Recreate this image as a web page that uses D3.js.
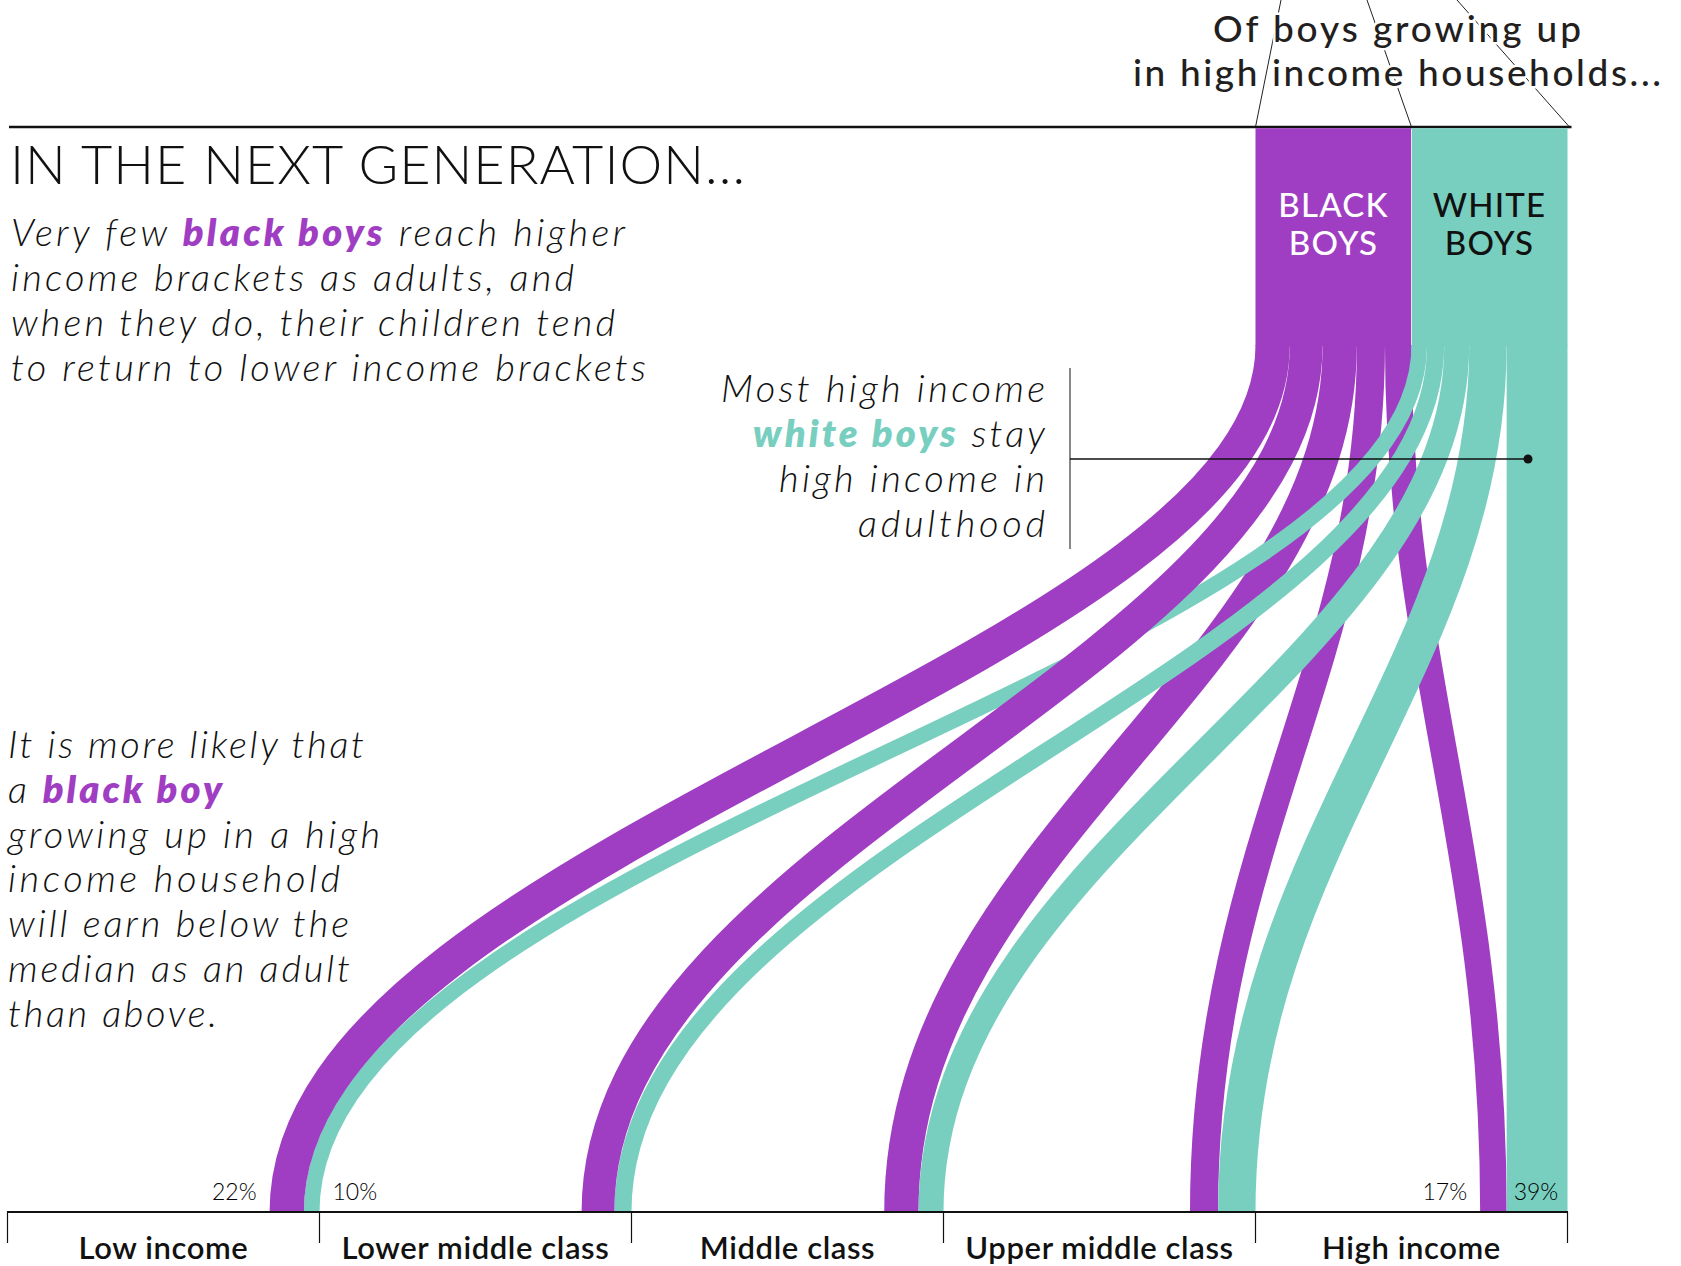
<!DOCTYPE html>
<html>
<head>
<meta charset="utf-8">
<script src="https://cdn.jsdelivr.net/npm/d3@7"></script>
<style>
  html, body { margin: 0; padding: 0; background: #fff; }
  svg { display: block; }
  text { font-family: Lato, "Open Sans", sans-serif; }
</style>
</head>
<body>
<svg id="chart" width="1681" height="1266"></svg>
<script>
// ---------------- DATA ----------------
const categories = ["Low income", "Lower middle class", "Middle class", "Upper middle class", "High income"];
const groups = ["BLACK BOYS", "WHITE BOYS"];
const blackShares = [22, 21, 22, 18, 17];   // % of black boys from high income households, by adult income bracket
const whiteShares = [10, 11, 16, 24, 39];   // % of white boys from high income households, by adult income bracket
const labelledCategories = ["Low income", "High income"]; // categories showing % labels

const headerLines = ["Of boys growing up", "in high income households..."];
const title = "IN THE NEXT GENERATION...";

// ---------------- SETUP ----------------
const svg = d3.select("#chart");
const purple = "#9f3ec2";
const teal = "#79cfbf";

const yTop = 127, yBarEnd = 345, yAxis = 1212;

const x = d3.scaleBand().domain(categories).range([7.5, 1567.5]).paddingInner(0).paddingOuter(0);
const w = d3.scaleLinear().domain([0, 100]).range([0, x.bandwidth() / 2]);
const yFlow = d3.scaleLinear().domain([0, 1]).range([yBarEnd, yAxis]);

const series = [
  { name: groups[0], values: blackShares, color: purple },
  { name: groups[1], values: whiteShares, color: teal }
];

const origin = x(categories[categories.length - 1]);
series.forEach((s, si) => { s.x0 = origin + w(100) * si; });

// ---------------- CONNECTOR LINES (top) ----------------
const gTop = svg.append("g");
const barL = series[0].x0, barM = series[1].x0, barR = series[1].x0 + w(100);
[[barL, 1281], [barM, 1367], [barR + 2, 1457]].forEach(([bx, tx]) => {
  gTop.append("line").attr("x1", bx).attr("y1", yTop).attr("x2", tx).attr("y2", 0)
    .attr("stroke", "#222").attr("stroke-width", 1);
});

const headerWidths = [368, 528];
headerLines.forEach((line, i) => {
  gTop.append("text").attr("text-anchor", "middle")
    .attr("x", 1397).attr("y", 42 + i * 44)
    .attr("font-size", 37).attr("font-weight", 500).attr("fill", "#231f20")
    .attr("stroke", "#fff").attr("stroke-width", 5).attr("paint-order", "stroke")
    .attr("textLength", headerWidths[i]).attr("lengthAdjust", "spacing")
    .text(line);
});

svg.append("line").attr("x1", 9).attr("x2", barR + 4).attr("y1", yTop).attr("y2", yTop)
  .attr("stroke", "#111").attr("stroke-width", 2.5);

// ---------------- SOURCE BARS ----------------
svg.selectAll("rect.src").data(series).join("rect")
  .attr("class", "src")
  .attr("x", d => d.x0).attr("y", yTop + 1.2)
  .attr("width", w(100)).attr("height", yBarEnd - yTop)
  .attr("fill", d => d.color);

// ---------------- LINKS ----------------
const links = [];
series.forEach((s, si) => {
  categories.forEach((c, ci) => {
    const right = x(c) + x.bandwidth();
    const tw = w(series[1].values[ci]);
    const bw = w(series[0].values[ci]);
    const targetStart = [right - tw - bw, right - tw];
    const before = d3.sum(s.values.slice(0, ci));
    const width = w(s.values[ci]);
    const sx = s.x0 + w(before) + width / 2;
    const tx = targetStart[si] + width / 2;
    // stacking layer: upper purple flows beneath, teal flows, then the two lowest purple flows on top
    const layer = si === 1 ? 1 : (ci >= 2 ? 0 : 2);
    links.push({ sx, tx, width, color: s.color, layer, ci });
  });
});
links.sort((a, b) => a.layer - b.layer || (a.layer === 0 ? b.ci - a.ci : a.ci - b.ci));

function flowPath(d) {
  const p = d3.path();
  p.moveTo(d.sx, yFlow(0));
  p.bezierCurveTo(d.sx, yFlow(0.37), d.tx, yFlow(0.58), d.tx, yFlow(1));
  return p.toString();
}

svg.append("g").selectAll("path").data(links).join("path")
  .attr("d", flowPath)
  .attr("fill", "none")
  .attr("stroke", d => d.color)
  .attr("stroke-width", d => d.width);

svg.append("line").attr("x1", barM).attr("x2", barM).attr("y1", yTop + 2).attr("y2", yBarEnd)
  .attr("stroke", "#fff").attr("stroke-width", 1).attr("opacity", 0.7);

// bar labels
series.forEach((s, si) => {
  const t = svg.append("text").attr("text-anchor", "middle")
    .attr("font-size", 33).attr("font-weight", 500)
    .attr("letter-spacing", 1.2)
    .attr("fill", si === 0 ? "#fff" : "#111");
  s.name.split(" ").forEach((word, i) => {
    t.append("tspan").attr("x", s.x0 + w(50)).attr("y", 217 + i * 38).text(word);
  });
});

// ---------------- AXIS ----------------
const gAxis = svg.append("g");
gAxis.append("line").attr("x1", 7).attr("x2", 1568).attr("y1", yAxis).attr("y2", yAxis)
  .attr("stroke", "#111").attr("stroke-width", 2.2);
const edges = categories.map(c => x(c)).concat([x(categories[categories.length - 1]) + x.bandwidth()]);
gAxis.selectAll("line.tick").data(edges).join("line").attr("class", "tick")
  .attr("x1", d => d).attr("x2", d => d).attr("y1", yAxis).attr("y2", 1243)
  .attr("stroke", "#111").attr("stroke-width", 1.2);
gAxis.selectAll("text.cat").data(categories).join("text").attr("class", "cat")
  .attr("x", d => x(d) + x.bandwidth() / 2).attr("y", 1259)
  .attr("text-anchor", "middle").attr("font-size", 31).attr("font-weight", 600)
  .attr("letter-spacing", 0.6)
  .attr("fill", "#111")
  .text(d => d);

// % labels
labelledCategories.forEach(c => {
  const ci = categories.indexOf(c);
  const right = x(c) + x.bandwidth();
  const tw = w(whiteShares[ci]);
  const bw = w(blackShares[ci]);
  svg.append("text").attr("x", right - tw - bw - 13).attr("y", 1200)
    .attr("text-anchor", "end").attr("font-size", 23).attr("font-weight", 300).attr("fill", "#000")
    .text(blackShares[ci] + "%");
  const inside = tw > 40;
  svg.append("text").attr("x", inside ? right - tw + 7 : right + 13).attr("y", 1200)
    .attr("text-anchor", "start").attr("font-size", 23).attr("font-weight", 300).attr("fill", "#000")
    .text(whiteShares[ci] + "%");
});

// ---------------- TITLE & ANNOTATIONS ----------------
svg.append("text").attr("x", 10).attr("y", 184)
  .attr("font-size", 54).attr("font-weight", 300).attr("fill", "#111")
  .attr("textLength", 735).attr("lengthAdjust", "spacing")
  .text(title);

function para(lines, opts) {
  const g = svg.append("g");
  lines.forEach((segs, i) => {
    const t = g.append("text")
      .attr("x", opts.x).attr("y", opts.y0 + i * opts.dy)
      .attr("text-anchor", opts.anchor || "start")
      .attr("font-size", opts.size).attr("font-style", "italic").attr("font-weight", 300)
      .attr("fill", "#111");
    if (opts.widths && opts.widths[i]) t.attr("textLength", opts.widths[i]).attr("lengthAdjust", "spacing");
    segs.forEach(s => {
      const ts = t.append("tspan").text(s.t);
      if (s.c) ts.attr("fill", s.c).attr("font-weight", 800);
    });
  });
}

para([
  [{ t: "Very few " }, { t: "black boys", c: purple }, { t: " reach higher" }],
  [{ t: "income brackets as adults, and" }],
  [{ t: "when they do, their children tend" }],
  [{ t: "to return to lower income brackets" }]
], { x: 11, y0: 246, dy: 45, size: 38, widths: [614, 563, 604, 635] });

para([
  [{ t: "Most high income" }],
  [{ t: "white boys", c: teal }, { t: " stay" }],
  [{ t: "high income in" }],
  [{ t: "adulthood" }]
], { x: 1045, y0: 402, dy: 45, size: 38, anchor: "end", widths: [324, 292, 266, 187] });

para([
  [{ t: "It is more likely that" }],
  [{ t: "a " }, { t: "black boy", c: purple }],
  [{ t: "growing up in a high" }],
  [{ t: "income household" }],
  [{ t: "will earn below the" }],
  [{ t: "median as an adult" }],
  [{ t: "than above." }]
], { x: 8, y0: 758, dy: 44.8, size: 38, widths: [356, 214, 372, 332, 341, 342, 209] });

// pointer for white boys annotation
svg.append("line").attr("x1", 1070).attr("x2", 1070).attr("y1", 368).attr("y2", 549)
  .attr("stroke", "#111").attr("stroke-width", 1);
svg.append("line").attr("x1", 1070).attr("x2", 1528).attr("y1", 459).attr("y2", 459)
  .attr("stroke", "#111").attr("stroke-width", 1.5);
svg.append("circle").attr("cx", 1528).attr("cy", 459).attr("r", 4.5).attr("fill", "#111");
</script>
</body>
</html>
